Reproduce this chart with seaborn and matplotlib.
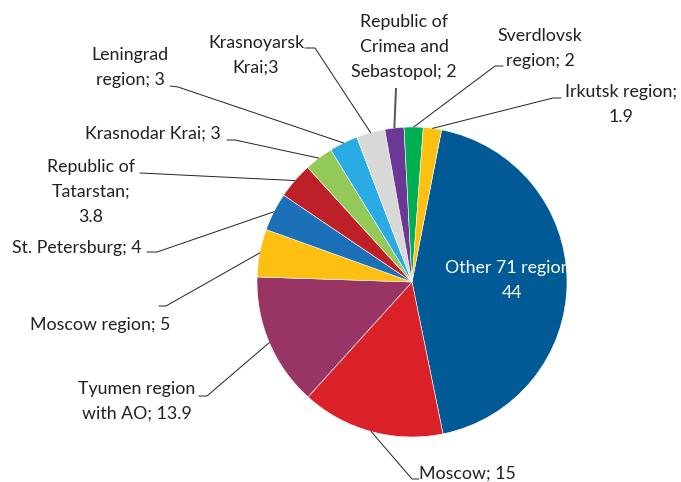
import matplotlib
matplotlib.use("Agg")
import matplotlib.pyplot as plt
import seaborn as sns
import numpy as np

# Shares of regions (%)
regions = ["Other 71 regions", "Moscow", "Tyumen region with AO", "Moscow region",
           "St. Petersburg", "Republic of Tatarstan", "Krasnodar Krai", "Leningrad region",
           "Krasnoyarsk Krai", "Republic of Crimea and Sebastopol", "Sverdlovsk region",
           "Irkutsk region"]
shares = [44, 15, 13.9, 5, 4, 3.8, 3, 3, 3, 2, 2, 1.9]
colors = ["#005a96", "#da2128", "#983565", "#fdc010", "#1c70b8", "#be2027",
          "#92c958", "#2aabe3", "#d8d8d6", "#6c3895", "#00af4f", "#fdc010"]

# Label text as it is broken into lines
label_lines = [
    ["Other 71 regions", "44"],
    ["Moscow; 15"],
    ["Tyumen region", "with AO; 13.9"],
    ["Moscow region; 5"],
    ["St. Petersburg; 4"],
    ["Republic of", "Tatarstan;", "3.8"],
    ["Krasnodar Krai; 3"],
    ["Leningrad", "region; 3"],
    ["Krasnoyarsk", "Krai;3"],
    ["Republic of", "Crimea and", "Sebastopol; 2"],
    ["Sverdlovsk", "region; 2"],
    ["Irkutsk region;", "1.9"],
]

# Layout in pixels (top origin): text centre x, first line y, leader points
W, H = 681, 482
label_pos = [(512, 268), (467, 474), (137, 389), (100, 325), (77, 248), (91, 167),
             (153, 134), (130, 55), (256, 43), (404, 22), (540, 36), (621, 92)]
leaders = [
    None,
    [(412, 479), (419, 479)],
    [(207, 396), (199, 396)],
    [(166, 306), (159, 306)],
    [(157, 252), (147, 252)],
    [(140, 173)],
    [(235, 140), (227, 140)],
    [(178, 87), (170, 86)],
    [(315, 48), (305, 48)],
    [(396, 88)],
    [(495, 66), (503, 66)],
    [(553, 98), (561, 98)],
]

sns.set_theme(style="white")
plt.rcParams['font.family'] = ['Lato', 'DejaVu Sans']

fig = plt.figure(figsize=(W / 100, H / 100), dpi=100)
ax = fig.add_axes([0, 0, 1, 1])

wedges, _ = ax.pie(shares, colors=colors, startangle=79, counterclock=False,
                   center=(412, H - 282), radius=155,
                   wedgeprops=dict(edgecolor='white', linewidth=0.4))

text_color = "#231f20"
for i, w in enumerate(wedges):
    lines = label_lines[i]
    x, y0 = label_pos[i]
    col = "white" if i == 0 else text_color
    for j, line in enumerate(lines):
        ax.text(x, H - (y0 + 25 * j), line, ha='center', va='center',
                fontsize=12.8, color=col)
    if leaders[i] is None:
        continue
    ang = np.deg2rad((w.theta1 + w.theta2) / 2)
    px = [w.center[0] + w.r * np.cos(ang)] + [p[0] for p in leaders[i]]
    py = [w.center[1] + w.r * np.sin(ang)] + [H - p[1] for p in leaders[i]]
    if i == 9:
        ax.plot(px, py, color="#555555", lw=1.4, solid_capstyle='butt')
    else:
        ax.plot(px, py, color=text_color, lw=0.7)

ax.set_xlim(0, W)
ax.set_ylim(0, H)
ax.set_aspect('equal')
ax.axis('off')

fig.savefig("out.png", dpi=100)
